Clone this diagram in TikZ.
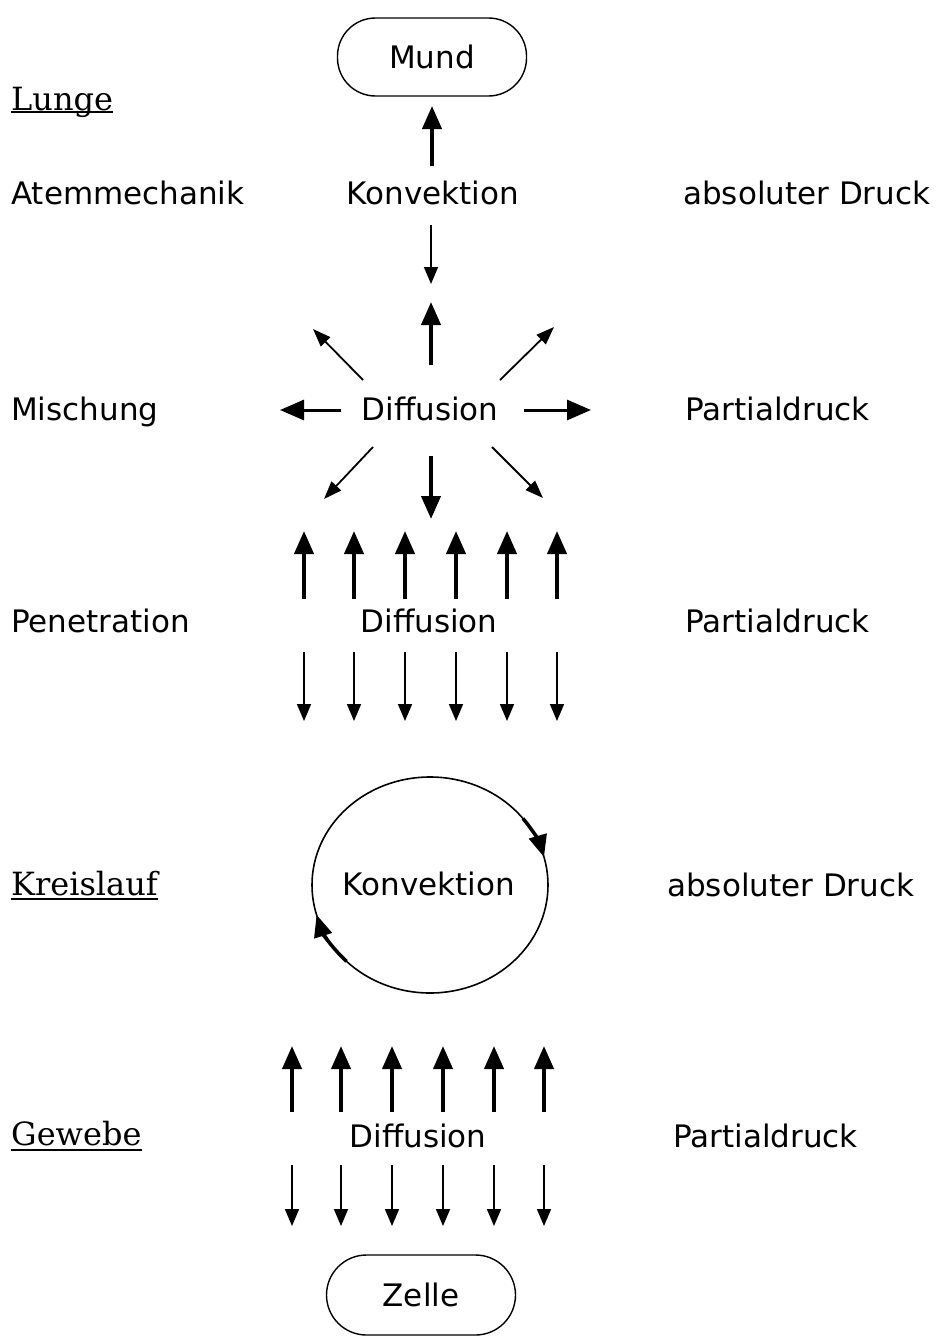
\documentclass[tikz,border=0pt]{standalone}
\usepackage{fontspec}
\setmainfont{DejaVu Sans}
\newfontfamily\headfont{DejaVu Serif}
\usetikzlibrary{arrows.meta,shapes.geometric,calc}
\tikzset{
  lbl/.style={inner sep=0pt, font=\fontsize{31}{37}\selectfont},
  head/.style={inner sep=0pt, font=\headfont\fontsize{32}{38}\selectfont},
  uline/.style={line width=1.8pt},
  boxshape/.style={draw, line width=1.4pt, rounded corners=38pt, minimum width=189pt, minimum height=78pt, inner sep=0pt, font=\fontsize{31}{37}\selectfont},
  thickarrow/.style={line width=4pt, -{Triangle[length=23pt,width=19pt]}},
  medarrow/.style={line width=3pt, -{Triangle[length=24pt,width=20pt]}},
  thinarrow/.style={line width=1.7pt, -{Triangle[length=17pt,width=14pt]}},
  diagarrow/.style={line width=1.8pt, -{Triangle[length=18pt,width=13pt]}},
  circarrow/.style={line width=3.5pt, -{Triangle[length=22pt,width=18pt]}},
}
\begin{document}
\begin{tikzpicture}[x=1pt,y=1pt]
\useasboundingbox (0,0) rectangle (947,-1338);

% boxes
\node[boxshape] (mund) at (432,-57) {Mund};
\node[boxshape, minimum height=80pt, rounded corners=40pt] (zelle) at (421,-1295) {Zelle};

% headings
\node[head, anchor=base west] (lunge) at (11,-110) {Lunge};
\draw[uline] ([yshift=-2pt]lunge.base west) -- ([yshift=-2pt]lunge.base east);
\node[head, anchor=base west] (kreislauf) at (11,-895) {Kreislauf};
\draw[uline] ([yshift=-4pt]kreislauf.base west) -- ([yshift=-4pt]kreislauf.base east);
\node[head, anchor=base west] (gewebe) at (11,-1145) {Gewebe};
\draw[uline] ([yshift=-5pt]gewebe.base west) -- ([yshift=-5pt]gewebe.base east);

% left labels
\node[lbl, anchor=base west] (atem) at (11,-204) {Atemmechanik};
\node[lbl, anchor=base west] (misch) at (11,-420) {Mischung};
\node[lbl, anchor=base west] (pen) at (11,-632) {Penetration};

% right labels
\node[lbl, anchor=base west] (abs1) at (683,-204) {absoluter Druck};
\node[lbl, anchor=base west] (part1) at (685,-420) {Partialdruck};
\node[lbl, anchor=base west] (part2) at (685,-632) {Partialdruck};
\node[lbl, anchor=base west] (abs2) at (667,-896) {absoluter Druck};
\node[lbl, anchor=base west] (part3) at (673,-1147) {Partialdruck};

% center labels
\node[lbl, anchor=base] (konv1) at (433,-204) {Konvektion};
\node[lbl, anchor=base] (diff1) at (430,-420) {Diffusion};
\node[lbl, anchor=base] (diff2) at (429,-632) {Diffusion};
\node[lbl, anchor=base] (konv2) at (429,-895) {Konvektion};
\node[lbl, anchor=base] (diff3) at (418,-1147) {Diffusion};

% top convection arrows
\coordinate (k1a) at (432,-166); \coordinate (k1b) at (432,-106);
\draw[thickarrow] (k1a) -- (k1b);
\coordinate (k2a) at (431,-225); \coordinate (k2b) at (431,-284);
\draw[thinarrow] (k2a) -- (k2b);

% diffusion star
\coordinate (su1) at (431,-365); \coordinate (su2) at (431,-302);
\draw[thickarrow] (su1) -- (su2);
\coordinate (sd1) at (431,-456); \coordinate (sd2) at (431,-519);
\draw[thickarrow] (sd1) -- (sd2);
\coordinate (sl1) at (341,-410); \coordinate (sl2) at (280,-410);
\draw[medarrow] (sl1) -- (sl2);
\coordinate (sr1) at (524,-410); \coordinate (sr2) at (591,-410);
\draw[medarrow] (sr1) -- (sr2);
\coordinate (sul1) at (363,-380); \coordinate (sul2) at (313,-329);
\draw[diagarrow] (sul1) -- (sul2);
\coordinate (sur1) at (500,-380); \coordinate (sur2) at (554,-327);
\draw[diagarrow] (sur1) -- (sur2);
\coordinate (sll1) at (373,-447); \coordinate (sll2) at (324,-499);
\draw[diagarrow] (sll1) -- (sll2);
\coordinate (slr1) at (492,-447); \coordinate (slr2) at (543,-498);
\draw[diagarrow] (slr1) -- (slr2);

% penetration arrows
\foreach \i/\x in {1/304,2/354,3/405,4/456,5/507,6/557}{
  \coordinate (pua\i) at (\x,-599); \coordinate (pub\i) at (\x,-531);
  \draw[thickarrow] (pua\i) -- (pub\i);
  \coordinate (pda\i) at (\x,-652); \coordinate (pdb\i) at (\x,-721);
  \draw[thinarrow] (pda\i) -- (pdb\i);
}

% circulation
\node[draw, ellipse, line width=1.6pt, minimum width=236pt, minimum height=216pt, inner sep=0pt] (kreis) at (430,-885) {};
\coordinate (c1a) at ($(kreis.center)+(38:118 and 108)$);
\coordinate (c2a) at ($(kreis.center)+(225:118 and 108)$);
\draw[circarrow] (c1a) arc[start angle=38, end angle=15, x radius=118, y radius=108];
\draw[circarrow] (c2a) arc[start angle=225, end angle=196, x radius=118, y radius=108];

% tissue arrows
\foreach \i/\x in {1/292,2/341,3/392,4/443,5/494,6/544}{
  \coordinate (gua\i) at (\x,-1112); \coordinate (gub\i) at (\x,-1046);
  \draw[thickarrow] (gua\i) -- (gub\i);
  \coordinate (gda\i) at (\x,-1165); \coordinate (gdb\i) at (\x,-1226);
  \draw[thinarrow] (gda\i) -- (gdb\i);
}
\end{tikzpicture}
\end{document}
